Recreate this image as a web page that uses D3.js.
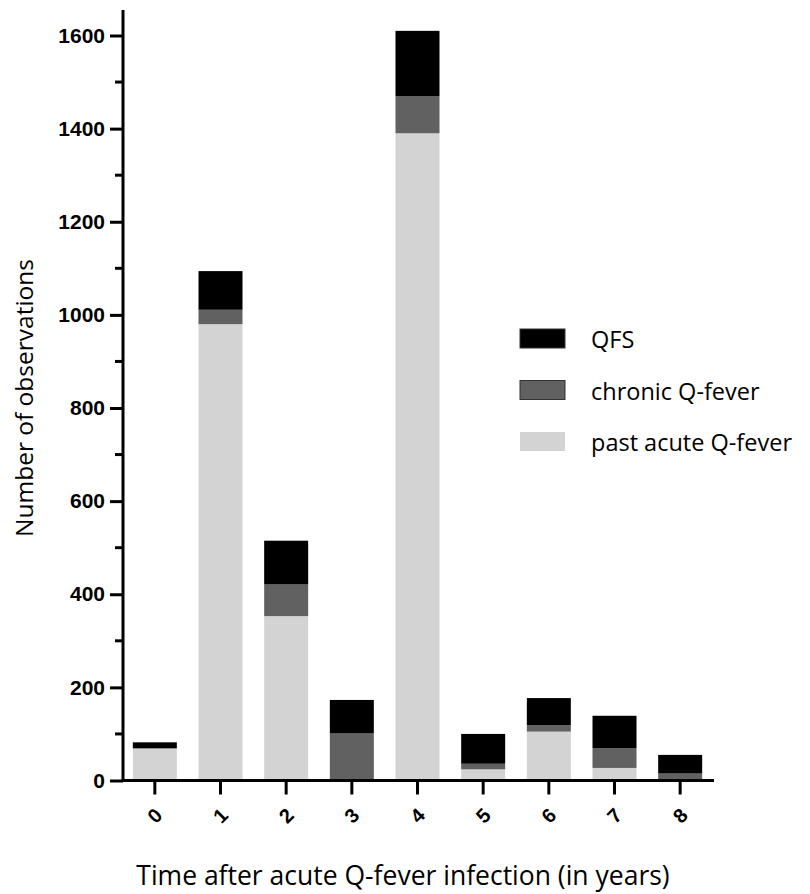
<!DOCTYPE html>
<html>
<head>
<meta charset="utf-8">
<script src="https://cdn.jsdelivr.net/npm/d3@7"></script>
<style>
  html, body { margin: 0; padding: 0; background: #fff; }
  svg { display: block; }
</style>
</head>
<body>
<svg id="chart" width="810" height="894"></svg>
<script>
// ---- data ----
const years = ["0", "1", "2", "3", "4", "5", "6", "7", "8"];
const pastAcute = [69, 980, 353, 0, 1390, 24, 105, 27, 0];
const chronic = [0, 31, 68, 101, 80, 12, 14, 42, 15];
const qfs = [13, 83, 94, 72, 140, 64, 58, 70, 40];
const seriesNames = ["past acute Q-fever", "chronic Q-fever", "QFS"];
const seriesColors = ["#d3d3d3", "#616161", "#000000"];
const legendOrder = ["QFS", "chronic Q-fever", "past acute Q-fever"];
const yMajorTicks = [0, 200, 400, 600, 800, 1000, 1200, 1400, 1600];
const yMinorTicks = [100, 300, 500, 700, 900, 1100, 1300, 1500];

const svg = d3.select("#chart");

const x = d3.scaleBand()
  .domain(years)
  .range([122, 713])
  .paddingInner(0.33)
  .paddingOuter(0.165);

const y = d3.scaleLinear()
  .domain([0, 1600])
  .range([780.5, 35.5]);

const rows = years.map((yr, i) => ({
  year: yr,
  "past acute Q-fever": pastAcute[i],
  "chronic Q-fever": chronic[i],
  "QFS": qfs[i]
}));
const stack = d3.stack().keys(seriesNames)(rows);
const color = d3.scaleOrdinal().domain(seriesNames).range(seriesColors);

// bars
svg.append("g")
  .selectAll("g")
  .data(stack)
  .join("g")
  .attr("fill", d => color(d.key))
  .selectAll("rect")
  .data(d => d)
  .join("rect")
  .attr("x", d => x(d.data.year))
  .attr("width", x.bandwidth())
  .attr("y", d => y(d[1]))
  .attr("height", d => Math.max(0, y(d[0]) - y(d[1])));

// y axis
const yAxis = svg.append("g")
  .attr("transform", "translate(123,0)")
  .call(d3.axisLeft(y).tickValues(yMajorTicks).tickSize(13).tickPadding(5).tickFormat(d3.format("d")));
yAxis.select(".domain").attr("d", `M0,${10}V${y(0) + 1.5}`);
yAxis.selectAll("path, line").attr("stroke", "#000").attr("stroke-width", 3);
yAxis.selectAll("text")
  .attr("font-family", "'Liberation Sans', Arial, sans-serif")
  .attr("font-weight", "bold")
  .attr("font-size", 21)
  .attr("fill", "#000");

svg.append("g")
  .attr("transform", "translate(123,0)")
  .selectAll("line")
  .data(yMinorTicks)
  .join("line")
  .attr("x1", -8).attr("x2", 0)
  .attr("y1", d => y(d)).attr("y2", d => y(d))
  .attr("stroke", "#000").attr("stroke-width", 3);

// x axis
const xAxis = svg.append("g")
  .attr("transform", `translate(0,${y(0)})`)
  .call(d3.axisBottom(x).tickSize(14).tickPadding(0));
xAxis.select(".domain").attr("d", `M121.5,0H714`);
xAxis.selectAll("path, line").attr("stroke", "#000").attr("stroke-width", 3);
xAxis.selectAll("text")
  .attr("font-family", "'Liberation Sans', Arial, sans-serif")
  .attr("font-weight", "bold")
  .attr("font-size", 20)
  .attr("fill", "#000")
  .attr("text-anchor", "middle")
  .attr("dy", null)
  .attr("y", 0)
  .attr("transform", "translate(0,35) rotate(-45)")
  .attr("dominant-baseline", "central");

// axis titles
svg.append("text")
  .attr("x", 403)
  .attr("y", 885)
  .attr("text-anchor", "middle")
  .attr("font-family", "'Open Sans', sans-serif")
  .attr("font-size", 26.5)
  .attr("fill", "#000")
  .text("Time after acute Q-fever infection (in years)");

svg.append("text")
  .attr("transform", "translate(33,398) rotate(-90)")
  .attr("text-anchor", "middle")
  .attr("font-family", "'Open Sans', sans-serif")
  .attr("font-size", 24.5)
  .attr("fill", "#000")
  .text("Number of observations");

// legend
const legend = svg.append("g");
const legItems = legend.selectAll("g")
  .data(legendOrder)
  .join("g")
  .attr("transform", (d, i) => `translate(520,${329 + i * 51.5})`);
legItems.append("rect")
  .attr("width", 45).attr("height", 19)
  .attr("fill", d => color(d))
  .attr("stroke", d => d === "past acute Q-fever" ? "none" : "#333")
  .attr("stroke-width", 1);
legItems.append("text")
  .attr("x", 71)
  .attr("y", 19)
  .attr("font-family", "'Open Sans', sans-serif")
  .attr("font-size", 23.5)
  .attr("fill", "#000")
  .text(d => d);
</script>
</body>
</html>
